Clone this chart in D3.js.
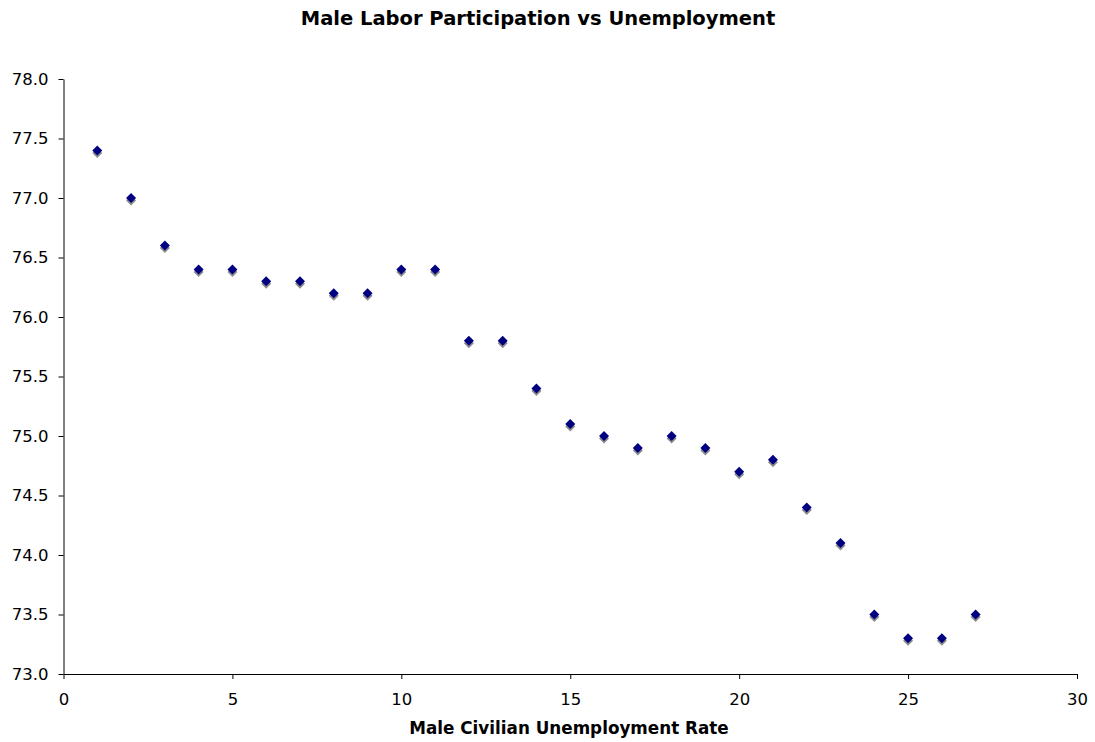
<!DOCTYPE html>
<html><head><meta charset="utf-8">
<script src="https://cdn.jsdelivr.net/npm/d3@7"></script>
<style>body{margin:0;background:#fff}svg{display:block}text{font-family:"DejaVu Sans",Verdana,sans-serif}</style>
</head><body>
<svg id="c" width="1095" height="742"></svg>
<script>
const unemploymentRate = [1,2,3,4,5,6,7,8,9,10,11,12,13,14,15,16,17,18,19,20,21,22,23,24,25,26,27];
const participation = [77.4,77.0,76.6,76.4,76.4,76.3,76.3,76.2,76.2,76.4,76.4,75.8,75.8,75.4,75.1,75.0,74.9,75.0,74.9,74.7,74.8,74.4,74.1,73.5,73.3,73.3,73.5];
const xTicks = [0,5,10,15,20,25,30];
const yTicks = [73.0,73.5,74.0,74.5,75.0,75.5,76.0,76.5,77.0,77.5,78.0];

const svg = d3.select("#c");
const m = {l:63.5, r:1077, t:79, b:674};
const x = d3.scaleLinear().domain([0,30]).range([m.l,m.r]);
const y = d3.scaleLinear().domain([73,78]).range([m.b,m.t]);

svg.append("text").attr("x",538).attr("y",25).attr("text-anchor","middle")
  .attr("font-size",19.5).attr("font-weight","bold").text("Male Labor Participation vs Unemployment");

const xa = svg.append("g").attr("transform",`translate(0,${m.b})`)
  .call(d3.axisBottom(x).tickValues(xTicks).tickSize(5).tickSizeOuter(0).tickPadding(14));
const ya = svg.append("g").attr("transform",`translate(${m.l},0)`)
  .call(d3.axisLeft(y).tickValues(yTicks).tickFormat(d3.format(".1f")).tickSize(5).tickSizeOuter(0).tickPadding(10));
[xa,ya].forEach(a=>{a.selectAll("text").attr("font-size",16.5).attr("fill","#000").attr("font-family","DejaVu Sans, Verdana, sans-serif");
  a.selectAll("path,line").attr("stroke","#000");});

svg.append("text").attr("x",569).attr("y",734).attr("text-anchor","middle")
  .attr("font-size",16.8).attr("font-weight","bold").text("Male Civilian Unemployment Rate");

const pts = unemploymentRate.map((d,i)=>[d,participation[i]]);
const diamond = "M0,-5L5,0L0,5L-5,0Z";
svg.append("g").selectAll("path").data(pts).join("path")
  .attr("d",diamond).attr("fill","#8c8c8c")
  .attr("transform",d=>`translate(${x(d[0])},${y(d[1])+2.5})`);
svg.append("g").selectAll("path").data(pts).join("path")
  .attr("d",diamond).attr("fill","#000080")
  .attr("transform",d=>`translate(${x(d[0])},${y(d[1])})`);
</script>
</body></html>
